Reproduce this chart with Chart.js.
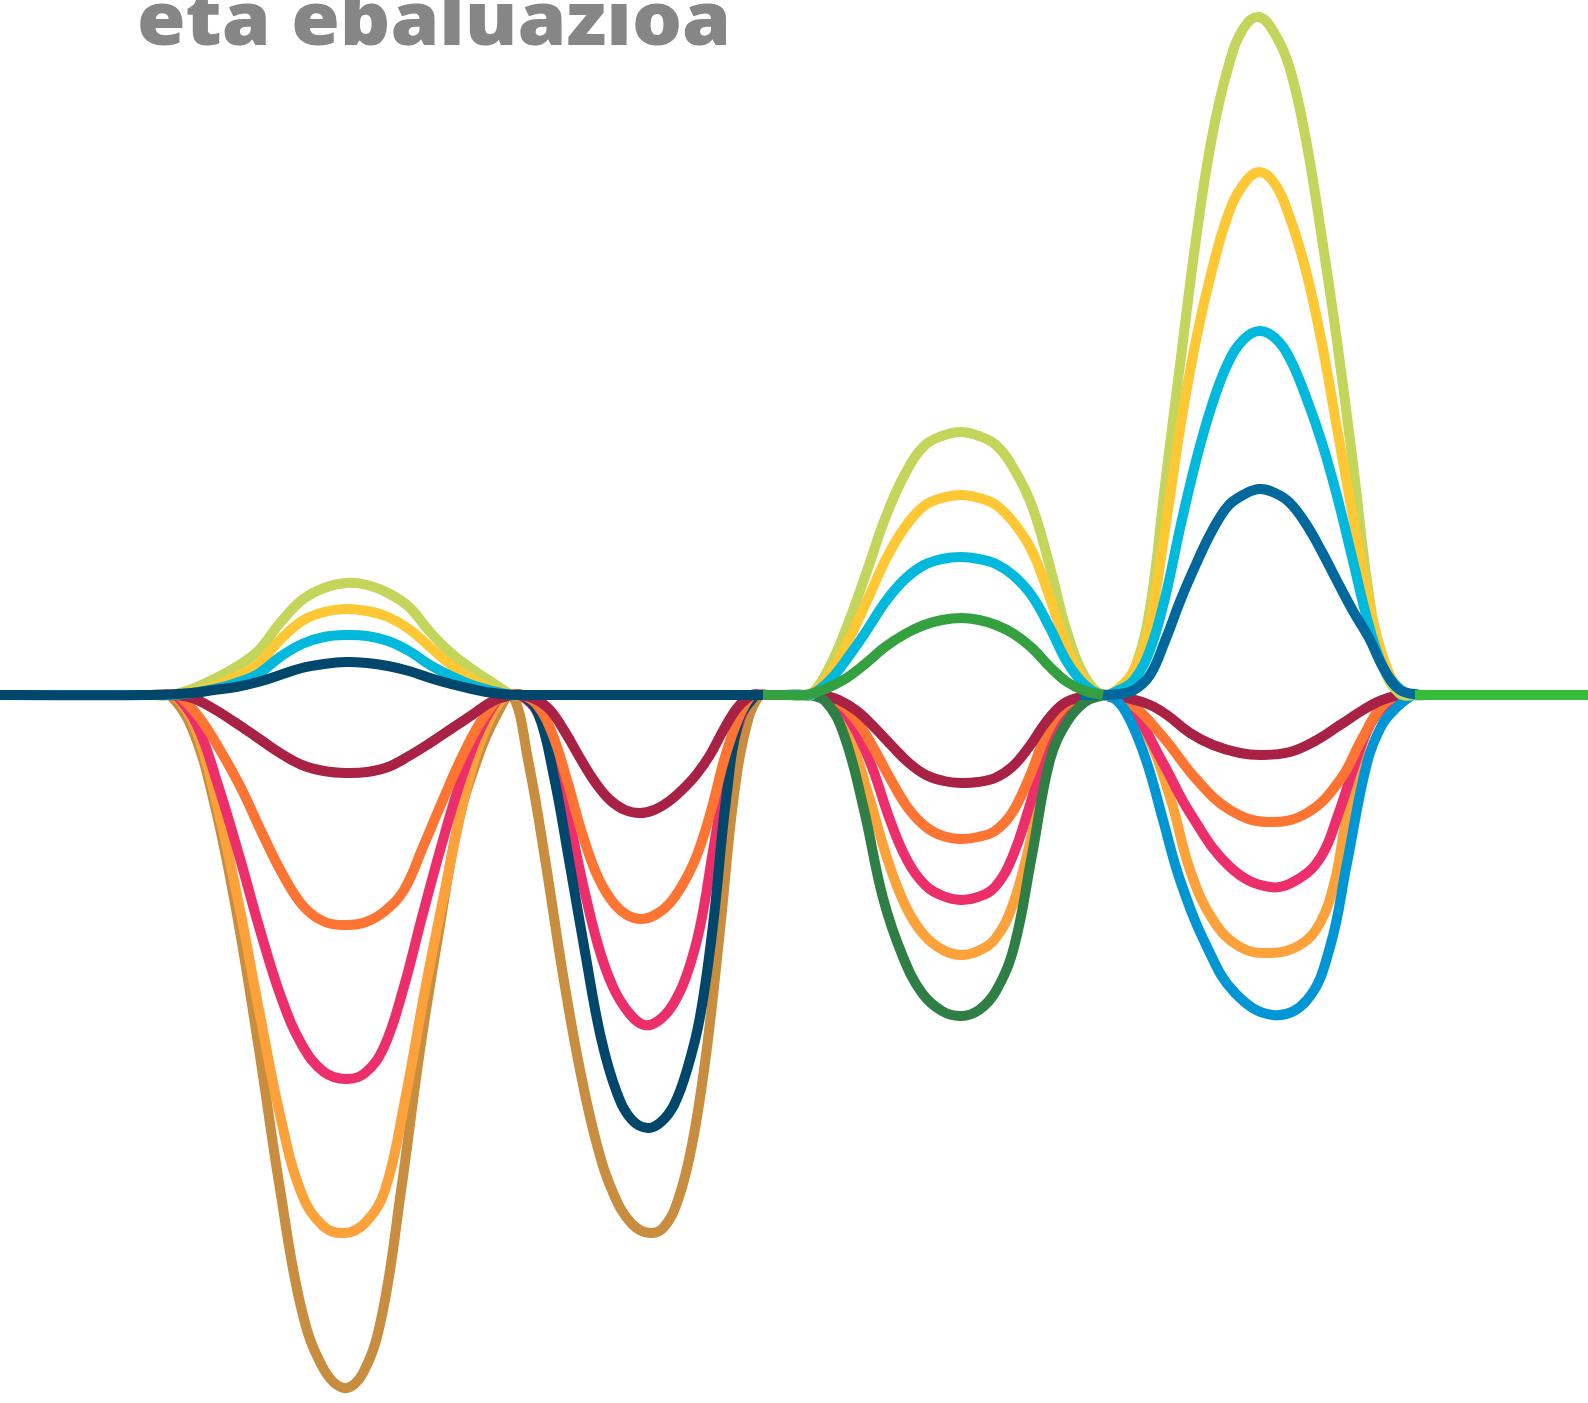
<!DOCTYPE html>
<html>
<head>
<meta charset="utf-8">
<script src="https://cdn.jsdelivr.net/npm/chart.js@4.4.1/dist/chart.umd.min.js"></script>
<style>
  html, body { margin: 0; padding: 0; background: #fff; overflow: hidden; }
  #wrap { position: relative; width: 1588px; height: 1403px; }
  #title {
    position: absolute; left: 137px; top: -21px;
    font-family: "Open Sans", sans-serif; font-weight: 800; font-size: 75px;
    line-height: 1; color: #868686; white-space: nowrap; transform-origin: 0 0;
  }
</style>
</head>
<body>
<div id="wrap">
  <canvas id="waves" width="1588" height="1403"></canvas>
  <div id="title">eta ebaluazioa</div>
</div>
<script>
// points are [x, height above the base line]
// top layers (flat base line pieces)
const navyTop = [[0,0],[150,0],[192,2],[214,5],[236,8],[258,13],[280,20],[302,27],[324,31],[346,33],[367,32],[388,29],[409,24],[430,17],[451,11],[472,6],[493,2],[515,0],[525,0],[763,0]];
const midGreen = [[763,0],[785,0],[805,0],[825,6],[845,16],[865,31],[885,48],[905,61],[924,70],[942,75],[961,77],[979,75],[996,70],[1014,61],[1032,47],[1050,28],[1067,13],[1085,4],[1103,0]];
const flatGreen = [[1415,0],[1588,0]];

// rising lines
const lightGreen = [[0,0],[150,0],[170,0],[192,6],[214,16],[236,28],[258,44],[280,72],[302,95],[324,107],[346,112],[367,110],[388,102],[409,88],[430,63],[451,42],[472,26],[493,12],[512,0],[520,0],
  [790,0],[803,0],[811,0],[830,29],[849,74],[867,124],[886,179],[905,221],[924,249],[942,259],[961,263],[979,259],[996,250],[1014,226],[1032,189],[1050,128],[1067,63],[1085,18],[1103,0],
  [1119,6],[1134,25],[1150,87],[1165,210],[1181,338],[1197,463],[1212,558],[1228,627],[1243,666],[1259,678],[1275,661],[1290,626],[1306,555],[1322,456],[1337,354],[1353,231],[1369,100],[1384,26],[1400,1],[1415,0],[1425,0],[1588,0]];
const yellow = [[0,0],[150,0],[170,0],[192,3],[214,9],[236,18],[258,31],[280,55],[302,74],[324,83],[346,86],[367,84],[388,78],[409,66],[430,48],[451,30],[472,16],[493,6],[512,0],[520,0],
  [790,0],[803,0],[811,0],[830,22],[849,56],[867,94],[886,136],[905,168],[924,189],[942,197],[961,200],[979,197],[996,190],[1014,172],[1032,144],[1050,97],[1067,48],[1085,14],[1103,0],
  [1119,7],[1134,25],[1150,72],[1165,165],[1181,272],[1197,360],[1212,425],[1228,480],[1243,510],[1259,523],[1275,511],[1290,477],[1306,424],[1322,351],[1337,267],[1353,178],[1369,93],[1384,35],[1400,5],[1415,0],[1425,0],[1588,0]];
const cyan = [[0,0],[150,0],[170,0],[192,2],[214,6],[236,12],[258,21],[280,38],[302,51],[324,58],[346,60],[367,59],[388,54],[409,44],[430,30],[451,19],[472,10],[493,4],[512,0],[520,0],
  [790,0],[803,0],[811,0],[830,15],[849,39],[867,65],[886,94],[905,116],[924,130],[942,136],[961,138],[979,136],[996,131],[1014,119],[1032,99],[1050,67],[1067,33],[1085,10],[1103,0],
  [1119,5],[1134,15],[1150,45],[1165,97],[1181,171],[1197,238],[1212,290],[1228,332],[1243,355],[1259,364],[1275,357],[1290,336],[1306,298],[1322,252],[1337,199],[1353,134],[1369,69],[1384,26],[1400,6],[1415,0],[1425,0],[1588,0]];
const darkBlue = [[1080,0],[1103,0],[1119,1],[1134,5],[1150,20],[1165,54],[1181,96],[1197,133],[1212,164],[1228,189],[1243,200],[1259,206],[1275,202],[1290,192],[1306,171],[1322,143],[1337,114],[1353,84],[1369,57],[1384,26],[1400,5],[1420,0]];

// falling lines
const maroon = [[0,0],[150,0],[170,0],[192,-3],[214,-14],[236,-28],[258,-43],[280,-58],[302,-70],[324,-76],[346,-78],[367,-77],[388,-72],[409,-61],[430,-48],[451,-34],[472,-20],[493,-6],[512,0],
  [520,0],[535,-4],[550,-15],[565,-37],[580,-63],[595,-87],[610,-105],[625,-115],[640,-118],[654,-115],[668,-107],[682,-95],[696,-80],[710,-60],[724,-34],[738,-12],[752,0],[760,0],
  [800,0],[815,0],[822,0],[839,-5],[857,-16],[874,-32],[892,-51],[909,-68],[926,-80],[944,-86],[961,-88],[978,-87],[995,-83],[1012,-72],[1029,-52],[1046,-27],[1063,-9],[1081,-2],[1100,0],
  [1110,0],[1127,-3],[1150,-10],[1167,-20],[1190,-38],[1213,-50],[1240,-58],[1262,-60],[1290,-57],[1315,-46],[1340,-30],[1363,-15],[1382,-5],[1400,0],[1410,0],[1588,0]];
const orange = [[0,0],[150,0],[170,0],[178,0],[199,-22],[220,-55],[241,-93],[262,-138],[283,-180],[304,-212],[325,-227],[347,-230],[366,-227],[385,-216],[404,-195],[423,-152],[442,-107],[461,-64],[480,-28],[501,0],
  [507,0],[522,0],[537,-10],[552,-38],[567,-85],[582,-138],[597,-180],[612,-206],[627,-220],[641,-224],[655,-220],[669,-209],[683,-189],[697,-160],[711,-116],[725,-62],[739,-22],[752,0],[760,0],
  [800,0],[812,0],[820,0],[838,-7],[856,-25],[873,-52],[891,-85],[908,-113],[926,-132],[943,-141],[961,-144],[978,-142],[995,-136],[1012,-118],[1029,-83],[1046,-40],[1063,-13],[1081,-3],[1100,0],
  [1105,0],[1130,-8],[1163,-42],[1197,-85],[1230,-115],[1267,-127],[1307,-118],[1340,-85],[1363,-42],[1385,-8],[1405,0],[1413,0],[1588,0]];
const pink = [[0,0],[150,0],[168,0],[176,0],[197,-30],[218,-90],[239,-160],[260,-235],[281,-302],[302,-350],[324,-377],[346,-384],[365,-378],[384,-352],[403,-295],[422,-222],[441,-152],[460,-88],[480,-35],[501,0],
  [508,0],[514,0],[520,0],[536,-15],[551,-55],[567,-115],[582,-185],[598,-250],[613,-292],[629,-318],[644,-330],[658,-326],[672,-311],[686,-282],[700,-232],[714,-150],[728,-72],[742,-20],[755,0],[763,0],
  [800,0],[810,0],[818,0],[836,-8],[854,-32],[872,-72],[890,-125],[907,-165],[925,-190],[943,-201],[961,-205],[978,-202],[995,-192],[1012,-163],[1029,-113],[1046,-55],[1063,-17],[1081,-4],[1100,0],
  [1105,0],[1130,-12],[1163,-68],[1190,-118],[1230,-172],[1270,-192],[1300,-183],[1322,-160],[1338,-120],[1353,-75],[1370,-30],[1388,-8],[1402,0],[1410,0],[1588,0]];
const lightOrange = [[0,0],[150,0],[167,0],[175,0],[196,-35],[217,-110],[238,-205],[259,-315],[280,-420],[301,-497],[323,-531],[345,-538],[365,-528],[385,-495],[405,-405],[425,-295],[445,-195],[465,-100],[485,-35],[505,0],[513,0],
  [800,0],[807,0],[815,0],[833,-10],[851,-45],[870,-105],[888,-166],[906,-212],[924,-240],[943,-255],[961,-260],[978,-256],[995,-244],[1012,-212],[1029,-152],[1046,-75],[1063,-27],[1081,-6],[1100,0],
  [1105,0],[1125,-10],[1145,-35],[1170,-102],[1190,-175],[1213,-225],[1240,-252],[1270,-258],[1300,-250],[1320,-228],[1335,-185],[1345,-130],[1358,-65],[1375,-20],[1400,0],[1408,0],[1588,0]];
const brown = [[0,0],[150,0],[162,0],[170,0],[192,-33],[214,-107],[236,-214],[258,-348],[280,-494],[301,-612],[322,-671],[344,-693],[363,-678],[382,-620],[401,-496],[420,-355],[439,-236],[458,-129],[477,-65],[496,-21],[512,0],
  [529,-70],[546,-170],[563,-280],[580,-375],[597,-450],[614,-500],[632,-529],[650,-538],[664,-532],[678,-505],[692,-450],[706,-360],[720,-235],[734,-100],[748,-25],[760,0],[768,0],[780,0]];
const navyLow = [[500,0],[514,0],[522,0],[538,-18],[554,-82],[569,-165],[585,-257],[601,-343],[617,-398],[632,-425],[648,-433],[661,-427],[674,-410],[687,-375],[700,-322],[713,-230],[726,-105],[739,-25],[755,0]];
const darkGreen = [[780,0],[805,0],[825,-6],[844,-40],[864,-115],[883,-203],[903,-262],[922,-298],[942,-316],[961,-321],[979,-315],[996,-296],[1014,-252],[1032,-160],[1050,-65],[1067,-27],[1085,-7],[1103,0]];
const blue = [[1085,0],[1100,0],[1115,-4],[1130,-25],[1147,-68],[1163,-125],[1180,-185],[1207,-252],[1235,-298],[1273,-320],[1307,-305],[1330,-252],[1347,-168],[1367,-68],[1382,-30],[1397,-12],[1412,0]];

// bottom layer first, top layer last
const layers = [
  [brown, '#C88D3E'],
  [lightOrange, '#FDA13A'],
  [pink, '#EC2F6B'],
  [navyLow, '#01476B'],
  [orange, '#FD7433'],
  [maroon, '#A92144'],
  [darkGreen, '#2E7E45'],
  [blue, '#0096D5'],
  [lightGreen, '#C3D55B'],
  [yellow, '#FEC734'],
  [cyan, '#00B9DC'],
  [darkBlue, '#00689D'],
  [midGreen, '#35A03F'],
  [navyTop, '#01476B'],
  [flatGreen, '#38BD3A']
];

const datasets = layers.slice().reverse().map(function(l) {
  return {
    data: l[0].map(p => ({ x: p[0], y: p[1] })),
    borderColor: l[1],
    borderWidth: 10,
    borderJoinStyle: 'round',
    pointRadius: 0,
    showLine: true,
    fill: false,
    tension: 0.4,
    clip: false
  };
});

new Chart(document.getElementById('waves'), {
  type: 'scatter',
  data: { datasets: datasets },
  options: {
    responsive: false,
    animation: false,
    events: [],
    layout: { padding: 0 },
    plugins: { legend: { display: false }, tooltip: { enabled: false } },
    scales: {
      x: { type: 'linear', display: false, min: 0, max: 1588 },
      y: { type: 'linear', display: false, min: -708, max: 695 }
    }
  }
});

// stretch the heading to the width it has in the picture
var t = document.getElementById('title');
var w = t.getBoundingClientRect().width;
t.style.transform = 'scaleX(' + (594 / w) + ')';
</script>
</body>
</html>
